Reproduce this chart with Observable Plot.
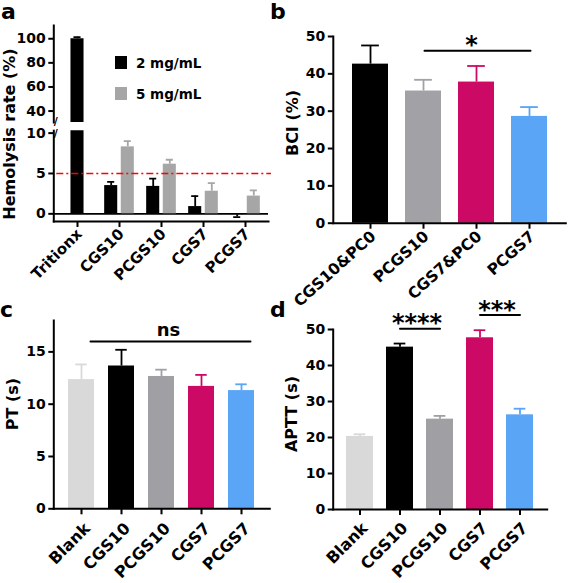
<!DOCTYPE html>
<html><head><meta charset="utf-8">
<script src="https://cdn.jsdelivr.net/npm/d3@7"></script>
<script src="https://cdn.jsdelivr.net/npm/@observablehq/plot@0.6"></script>
<style>
html,body{margin:0;padding:0;background:#fff;}
#fig{position:relative;width:569px;height:583px;overflow:hidden;font-family:'DejaVu Sans',sans-serif;font-weight:bold;color:#000;}
.panel{position:absolute;}
.plab{position:absolute;font-size:22px;line-height:1;}
.ytitle{position:absolute;font-size:16px;line-height:1;white-space:nowrap;transform:translate(-50%,-50%) rotate(-90deg);}
.leg{position:absolute;font-size:13.5px;line-height:1;white-space:nowrap;}
.sw{position:absolute;width:12px;height:13px;}
</style></head><body><div id="fig"></div>
<script>
// ---------- Panel a: hemolysis ----------
const hemoGroups = ["Tritionx","CGS10","PCGS10","CGS7","PCGS7"];
const hemoSeries = ["2 mg/mL","5 mg/mL"];
const hemoColors = ["#000000","#a6a6a6"];
const hemo2 = [100, 3.5, 3.4, 0.9, -0.1];
const hemo2Err = [1.3, 0.45, 0.95, 1.3, 0.3];
const hemo5 = [null, 8.3, 6.15, 2.8, 2.2];
const hemo5Err = [null, 0.7, 0.55, 1.0, 0.7];
const hemoLimit = 5;
const hemoUpperTicks = [40,60,80,100];
const hemoLowerTicks = [0,5,10];
const hemoUpperDomain = [30.5, 111];
const hemoLowerDomain = [-0.95, 10.3];

// ---------- Panel b: BCI ----------
const bciGroups = ["CGS10&PC0","PCGS10","CGS7&PC0","PCGS7"];
const bciValues = [42.6, 35.4, 37.8, 28.6];
const bciErr = [5.0, 3.0, 4.3, 2.5];
const bciColors = ["#000000","#a2a2a6","#cc0a66","#5aa5f5"];
const bciTicks = [0,10,20,30,40,50];
const bciSig = [{from:"PCGS10", to:"PCGS7", y:46.2, label:"*"}];

// ---------- Panels c, d: coagulation ----------
const coagGroups = ["Blank","CGS10","PCGS10","CGS7","PCGS7"];
const coagColors = ["#d9d9d9","#000000","#a0a0a4","#cc0a66","#5aa5f5"];
const ptValues = [12.35, 13.65, 12.65, 11.7, 11.3];
const ptErr = [1.45, 1.55, 0.65, 1.1, 0.6];
const ptTicks = [0,5,10,15];
const ptSig = [{from:"Blank", to:"PCGS7", y:16.0, label:"ns"}];
const apttValues = [20.3, 45.1, 25.1, 47.7, 26.3];
const apttErr = [0.6, 1.0, 0.9, 2.1, 1.7];
const apttTicks = [0,10,20,30,40,50];
const apttSig = [{from:"CGS10", to:"PCGS10", y:50.2, label:"****"},{from:"CGS7", to:"PCGS7", y:54, label:"***"}];

// ---------- helpers ----------
function rows(groups, values, errs, colors) {
  return groups.map((g,i) => values[i] == null ? null :
    ({g, v: values[i], top: values[i] + (values[i] < 0 ? -1 : 1) * errs[i], color: colors[i]})).filter(Boolean);
}
const baseStyle = {fontFamily:"'DejaVu Sans', sans-serif", fontWeight:"bold", color:"#000", background:"transparent", overflow:"visible"};
const fig = document.getElementById("fig");
function place(el, left, top) {
  const d = document.createElement("div");
  d.className = "panel"; d.style.left = left + "px"; d.style.top = top + "px";
  d.appendChild(el); fig.appendChild(d);
}
function html(cls, text, left, top, extra) {
  const d = document.createElement("div");
  d.className = cls; d.textContent = text;
  d.style.left = left + "px"; d.style.top = top + "px";
  if (extra) Object.assign(d.style, extra);
  fig.appendChild(d);
}
function xAxes(o) {
  return [
    Plot.axisX({tickSize:6, tickFormat: () => "", label:null, strokeWidth:2}),
    Plot.axisX({tickSize:0, tickPadding:o.pad, tickRotate:o.rot, fontSize:o.font, dx:o.dx, label:null})
  ];
}

// ---------- Panel a ----------
const aW = 285, aML = 53.3, aMR = 17;
const aStep = (aW - aML - aMR) / hemoGroups.length;
const soloGroups = hemoGroups.filter((g,i) => hemo5[i] == null);
const rows2 = rows(hemoGroups, hemo2, hemo2Err, hemoGroups.map(() => hemoColors[0]));
const rows5 = rows(hemoGroups, hemo5, hemo5Err, hemoGroups.map(() => hemoColors[1]));
const solo = rows2.filter(d => soloGroups.includes(d.g));
const pair2 = rows2.filter(d => !soloGroups.includes(d.g));
const barW = 14, gap = 2.6, capA = 8;
const outerIn = aStep/2 - gap/2 - barW, innerIn = aStep/2 + gap/2;
const soloIn = (aStep - barW)/2, capIn = (aStep - capA)/2, off = gap/2 + barW/2;
const xA = {domain: hemoGroups, padding: 0};

function errMarks(data, dx, clip) {
  return [
    Plot.ruleX(data, {x:"g", y1:"v", y2:"top", stroke:"color", strokeWidth:1.8, dx, clip}),
    Plot.tickY(data, {x:"g", y:"top", stroke:"color", strokeWidth:1.8, insetLeft:capIn, insetRight:capIn, dx, clip})
  ];
}

const aUpper = Plot.plot({
  width: aW, height: 125, marginLeft: aML, marginRight: aMR, marginTop: 25, marginBottom: 3,
  style: baseStyle, x: {...xA, axis: null}, y: {domain: hemoUpperDomain}, color: {type:"identity"},
  marks: [
    ...errMarks(solo, 0, true),
    Plot.barY(solo, {x:"g", y:"v", fill:"color", insetLeft: soloIn, insetRight: soloIn, clip: true}),
    Plot.axisY({ticks: hemoUpperTicks, tickSize:5, tickPadding:3, fontSize:14, label:null, strokeWidth:2}),
    Plot.frame({anchor:"left", strokeWidth:2}),
    Plot.text(["/"], {frameAnchor:"bottom-left", text: d => d, fontSize: 11, dy: 2})
  ]
});
place(aUpper, 0, 0);

const aLower = Plot.plot({
  width: aW, height: 165, marginLeft: aML, marginRight: aMR, marginTop: 5.2, marginBottom: 69,
  style: baseStyle, x: xA, y: {domain: hemoLowerDomain}, color: {type:"identity"},
  marks: [
    Plot.ruleY([0], {strokeWidth: 1.6}),
    ...errMarks(solo, 0, true),
    ...errMarks(pair2, -off, true),
    ...errMarks(rows5, off, true),
    Plot.barY(solo, {x:"g", y:"v", fill:"color", insetLeft: soloIn, insetRight: soloIn, clip: true}),
    Plot.barY(pair2, {x:"g", y:"v", fill:"color", insetLeft: outerIn, insetRight: innerIn, clip: true}),
    Plot.barY(rows5, {x:"g", y:"v", fill:"color", insetLeft: innerIn, insetRight: outerIn, clip: true}),
    Plot.ruleY([hemoLimit], {stroke:"#ff0000", strokeWidth:1.6, strokeDasharray:"7,3,2,3", dx: 3}),
    Plot.axisY({ticks: hemoLowerTicks, tickSize:5, tickPadding:3, fontSize:14, label:null, strokeWidth:2}),
    ...xAxes({pad:10, rot:-45, font:15, dx:2}),
    Plot.frame({anchor:"left", strokeWidth:2}),
    Plot.frame({anchor:"bottom", strokeWidth:2}),
    Plot.text(["/"], {frameAnchor:"top-left", text: d => d, fontSize: 11, dy: -2})
  ]
});
place(aLower, 0, 125);

// legend of panel a
hemoSeries.forEach((s, i) => {
  html("sw", "", 115, 56 + i*31, {background: hemoColors[i]});
  html("leg", s, 136, 56.5 + i*31);
});

// ---------- Panels b, c, d ----------
function simplePanel(o) {
  const data = rows(o.groups, o.values, o.errs, o.colors);
  const inner = o.width - o.mL - o.mR;
  const step = inner / (o.groups.length - o.padding + 2*o.padding);
  const bw = step * (1 - o.padding);
  const ci = (bw - o.capWidth)/2;
  const sigPts = o.sig.flatMap((s,i) => [{id:i, g:s.from, y:s.y}, {id:i, g:s.to, y:s.y}]);
  return Plot.plot({
    width: o.width, height: o.height, marginLeft: o.mL, marginRight: o.mR, marginTop: o.mT, marginBottom: o.mB,
    style: baseStyle, x: {domain: o.groups, padding: o.padding}, y: {domain: o.yDomain}, color: {type:"identity"},
    marks: [
      Plot.ruleX(data, {x:"g", y1:"v", y2:"top", stroke:"color", strokeWidth:1.8}),
      Plot.tickY(data, {x:"g", y:"top", stroke:"color", strokeWidth:1.8, insetLeft:ci, insetRight:ci}),
      Plot.barY(data, {x:"g", y:"v", fill:"color"}),
      Plot.line(sigPts, {x:"g", y:"y", z:"id", strokeWidth:2, dx: o.sigLineDx}),
      Plot.text(o.sig, {x:"from", y:"y", text:"label", dx:o.sigDx, dy:o.sigDy, fontSize:o.sigFont}),
      Plot.axisY({ticks:o.yTicks, tickSize:5, tickPadding:3, fontSize:14, label:null, strokeWidth:2}),
      ...xAxes(o.lab),
      Plot.frame({anchor:"left", strokeWidth:2}),
      Plot.frame({anchor:"bottom", strokeWidth:2})
    ]
  });
}

place(simplePanel({groups:bciGroups, values:bciValues, errs:bciErr, colors:bciColors, yDomain:[0,50], yTicks:bciTicks,
  padding:0.33, width:284, height:290, mL:47.8, mR:3.7, mT:36, mB:67.3, capWidth:17.7,
  sig:bciSig, sigDx:48, sigDy:-5, sigFont:24, sigLineDx:1, lab:{pad:11, rot:-42, font:15.5, dx:3}}), 285, 0);

place(simplePanel({groups:coagGroups, values:ptValues, errs:ptErr, colors:coagColors, yDomain:[0,18], yTicks:ptTicks,
  padding:0.35, width:285, height:293, mL:53.3, mR:15.7, mT:30, mB:74.7, capWidth:11.7,
  sig:ptSig, sigDx:87, sigDy:-11, sigFont:18, sigLineDx:9, lab:{pad:17, rot:-45, font:16, dx:6}}), 0, 290);

place(simplePanel({groups:coagGroups, values:apttValues, errs:apttErr, colors:coagColors, yDomain:[0,50], yTicks:apttTicks,
  padding:0.32, width:284, height:293, mL:47.7, mR:22.3, mT:39, mB:74, capWidth:12,
  sig:apttSig, sigDx:17, sigDy:-5, sigFont:24, sigLineDx:0, lab:{pad:16, rot:-45, font:16, dx:5}}), 285, 290);

// ---------- text: panel letters and axis titles ----------
html("plab", "a", 1, 1.4);
html("plab", "b", 270, 1.4);
html("plab", "c", 0, 299.4);
html("plab", "d", 270, 299.4);
html("ytitle", "Hemolysis rate (%)", 9.5, 134);
html("ytitle", "BCI (%)", 293, 122.5);
html("ytitle", "PT (s)", 12.5, 404);
html("ytitle", "APTT (s)", 291.5, 414);
</script></body></html>
